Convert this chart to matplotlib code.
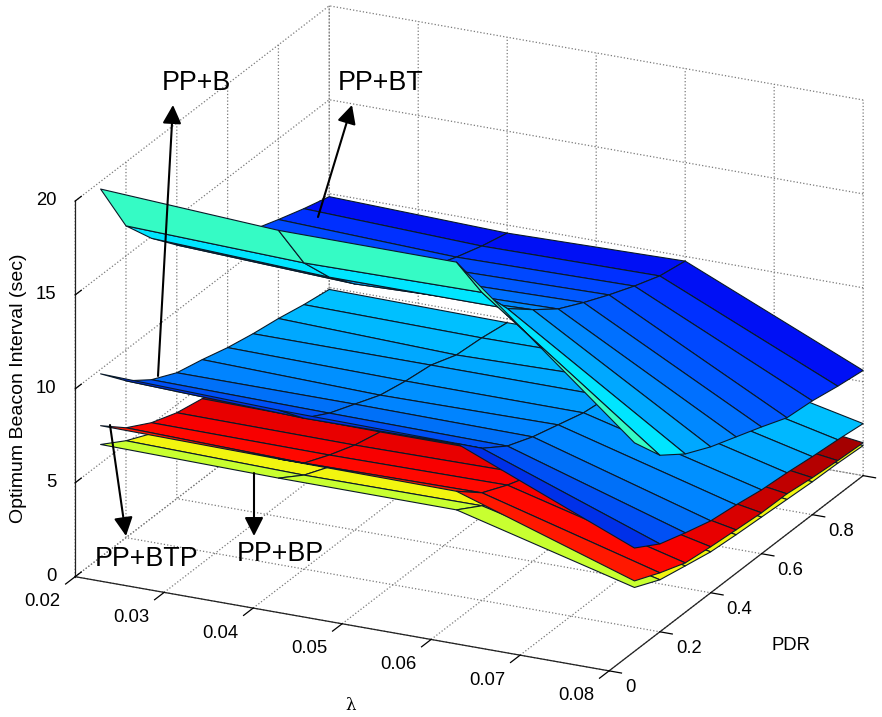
#!/usr/bin/env python3
"""Optimum beacon interval surfaces over lambda and PDR."""
import numpy as np
import matplotlib
matplotlib.use("Agg")
import matplotlib.pyplot as plt
from matplotlib.colors import to_rgba
from mpl_toolkits.mplot3d import proj3d

plt.rcParams['font.family'] = ['Liberation Sans', 'DejaVu Sans']
plt.rcParams['grid.color'] = '#7a7a7a'
plt.rcParams['grid.linestyle'] = ':'
plt.rcParams['grid.linewidth'] = 0.9

# data
lam = [0.02, 0.04, 0.06, 0.08]
pdr = [0.1, 0.2, 0.3, 0.4, 0.5, 0.6, 0.7, 0.8, 0.9, 1.0]

# each row is one lambda, each value one pdr
z_bt = [
    [19.6, 16.6, 14.9, 13.5, 12.6, 11.8, 11.2, 10.7, 10.24, 9.84],
    [19.07, 16.3, 14.5, 13.1, 12.2, 11.5, 10.9, 10.37, 9.92, 9.57],
    [19.05, 16.4, 14.5, 13.4, 12.4, 11.7, 11.07, 10.5, 10.0, 9.75],
    [11.1, 9.4, 8.43, 7.77, 7.26, 6.75, 6.2, 6.06, 5.8, 5.6],
]
z_b = [
    [9.76, 8.35, 7.37, 6.7, 6.36, 5.96, 5.66, 5.43, 5.13, 4.9],
    [9.5, 8.03, 7.26, 6.7, 6.14, 5.85, 5.66, 5.16, 5.03, 4.8],
    [9.4, 8.1, 7.18, 6.63, 6.23, 5.83, 5.65, 5.35, 5.1, 4.85],
    [5.5, 4.68, 4.23, 3.83, 3.64, 3.4, 3.27, 3.09, 2.95, 2.77],
]
z_btp = [
    [7.0, 5.85, 5.08, 4.57, 4.28, 3.95, 3.65, 3.4, 3.2, 3.0],
    [6.9, 5.64, 5.03, 4.52, 4.18, 3.85, 3.6, 3.35, 3.15, 3.0],
    [6.85, 5.73, 5.1, 4.6, 4.2, 3.9, 3.6, 3.35, 3.15, 3.0],
    [3.75, 3.14, 2.63, 2.45, 2.31, 2.18, 2.15, 1.97, 1.84, 1.75],
]
z_bp = [
    [6.0, 5.16, 4.5, 4.1, 3.75, 3.45, 3.2, 3.0, 2.8, 2.65],
    [5.88, 5.0, 4.4, 4.0, 3.7, 3.4, 3.15, 2.95, 2.8, 2.65],
    [5.86, 5.04, 4.4, 4.0, 3.7, 3.4, 3.15, 2.95, 2.8, 2.65],
    [3.4, 2.77, 2.47, 2.18, 2.05, 1.95, 1.85, 1.75, 1.7, 1.6],
]

lam_ticks = [0.02, 0.03, 0.04, 0.05, 0.06, 0.07, 0.08]
pdr_ticks = [0, 0.2, 0.4, 0.6, 0.8, 1]
pdr_labels = ['0', '0.2', '0.4', '0.6', '0.8', '']
z_ticks = [0, 5, 10, 15, 20]

# colour of each band between two pdr values
col_bt = ['#35FBC5', '#00E5FF', '#00A8FF', '#0088FF', '#0070FF', '#0058FF', '#0048FF', '#0030FF', '#0010F5']
col_b = ['#0030E8', '#0050F5', '#0070F8', '#0084FF', '#0090FF', '#009CFF', '#00A8FF', '#00B8FF', '#00C0FF']
col_btp = ['#FF1800', '#FF0800', '#F80000', '#E80000', '#D80000', '#C80000', '#C00000', '#B40000', '#A40000']
col_bp = ['#C8FF30', '#F2F510', '#F2F510', '#F2F510', '#F2F510', '#F2F510', '#F2F510', '#F2F510', '#F2F510']


def draw_surf(ax, X, Y, z, colours, order):
    Z = np.array(z).T
    fc = np.zeros(Z.shape + (4,))
    for i, c in enumerate(colours):
        fc[i, :] = to_rgba(c)
    s = ax.plot_surface(X, Y, Z, facecolors=fc, rstride=1, cstride=1, shade=False, zorder=order)
    s.set_edgecolor('#0a1a28')
    s.set_linewidth(0.8)
    return s


fig = plt.figure(figsize=(8.82, 7.17), dpi=100)
# square 3d axes placed so the box lands where it is in the picture
ax = fig.add_axes([7 / 882, -83.5 / 717, 900 / 882, 900 / 717], projection='3d',
                  computed_zorder=False, proj_type='ortho')
ax.patch.set_alpha(0)
ax.view_init(elev=21.6, azim=-64.4)
ax.set_box_aspect((592, 588, 404))

X, Y = np.meshgrid(lam, pdr)
draw_surf(ax, X, Y, z_bp, col_bp, 1)
draw_surf(ax, X, Y, z_btp, col_btp, 2)
draw_surf(ax, X, Y, z_b, col_b, 3)
draw_surf(ax, X, Y, z_bt, col_bt, 4)

ax.set_xlim3d(0.02, 0.08, view_margin=0)
ax.set_ylim3d(0, 1, view_margin=0)
ax.set_zlim3d(0, 20, view_margin=0)
ax.set_xticks(lam_ticks)
ax.set_xticklabels([])
ax.set_yticks(pdr_ticks)
ax.set_yticklabels([])
ax.set_zticks(z_ticks)
ax.set_zticklabels([])
ax.zaxis.set_ticks_position('lower')

# for the two front edges mplot3d's "inward" is the side away from the box
tick_in = {'x': 0.47, 'y': 0.29, 'z': 0}
tick_out = {'x': 0, 'y': 0, 'z': 0.3}
for name, axis in (('x', ax.xaxis), ('y', ax.yaxis), ('z', ax.zaxis)):
    axis.set_pane_color((1, 1, 1, 1))
    axis.pane.set_edgecolor('white')
    axis.line.set_color('#222222')
    axis.line.set_linewidth(0.9)
    axis._axinfo['tick']['inward_factor'] = tick_in[name]
    axis._axinfo['tick']['outward_factor'] = tick_out[name]
    axis._axinfo['tick']['linewidth'] = {True: 0.9, False: 0.5}
    axis._axinfo['tick']['color'] = '#222222'


# mplot3d gives no way to nudge tick labels sideways, so project the tick and offset from it
def tick_label(x, y, z, text, dx, dy, ha):
    px, py, _ = proj3d.proj_transform(x, y, z, ax.get_proj())
    ax.annotate(text, xy=(px, py), xytext=(dx, dy), textcoords='offset pixels',
                fontsize=13.3, ha=ha, va='center', annotation_clip=False)


for v in lam_ticks:
    tick_label(v, 0, 0, '%.2f' % v, -33, -25, 'center')
for v, s in zip(pdr_ticks, pdr_labels):
    tick_label(0.08, v, 0, s, 16, -17, 'left')
for v in z_ticks:
    tick_label(0.02, 0, v, str(v), -19, 0.5, 'right')

# labels and arrows in picture pixels
over = fig.add_axes([0, 0, 1, 1], zorder=5)
over.set_xlim(0, 882)
over.set_ylim(717, 0)
over.axis('off')


def arrow(x0, y0, x1, y1):
    over.annotate('', xy=(x1, y1), xytext=(x0, y0),
                  arrowprops=dict(arrowstyle='-|>,head_length=0.75,head_width=0.38', color='black',
                                  lw=1.5, mutation_scale=15, shrinkA=0, shrinkB=0))


arrow(158, 376, 173, 105)
arrow(318, 217, 352, 105)
arrow(110, 425, 126, 536)
arrow(254, 473, 254, 536)

over.text(196, 83, 'PP+B', fontsize=19.4, ha='center', va='center')
over.text(381, 83, 'PP+BT', fontsize=19.4, ha='center', va='center')
over.text(147, 559, 'PP+BTP', fontsize=19.4, ha='center', va='center')
over.text(280, 554, 'PP+BP', fontsize=19.4, ha='center', va='center')

over.text(351, 706, 'λ', fontsize=12, ha='center', va='center', family=['DejaVu Serif'])
over.text(791, 645, 'PDR', fontsize=13.3, ha='center', va='center')
over.text(19, 388, 'Optimum Beacon Interval (sec)', fontsize=14, rotation=90, ha='center', va='center')

fig.savefig('out.png', dpi=100)
